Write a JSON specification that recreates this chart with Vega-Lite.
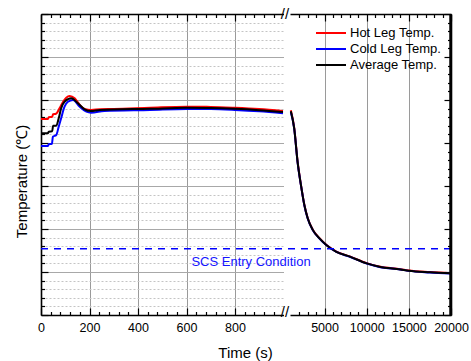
{
  "$schema": "https://vega.github.io/schema/vega-lite/v6.json",
  "autosize": {"type": "none"},
  "width": 410,
  "height": 301,
  "padding": {"left": 41, "top": 14, "right": 20, "bottom": 46},
  "background": "white",
  "config": {
    "font": "Liberation Sans",
    "view": {"stroke": null},
    "axis": {
      "labelFont": "Liberation Sans",
      "labelFontSize": 12.5,
      "labelColor": "black",
      "titleFont": "Liberation Sans",
      "titleFontSize": 15,
      "titleFontWeight": "normal",
      "titleColor": "black",
      "domainColor": "black",
      "domainWidth": 1.6,
      "tickColor": "black",
      "tickWidth": 1.2
    }
  },
  "datasets": {
    "one": [{"k": 1}],
    "left": [
      {"series": "Hot Leg Temp.", "t": 0, "temp": 328},
      {"series": "Hot Leg Temp.", "t": 28, "temp": 328},
      {"series": "Hot Leg Temp.", "t": 32, "temp": 330},
      {"series": "Hot Leg Temp.", "t": 46, "temp": 330.5},
      {"series": "Hot Leg Temp.", "t": 50, "temp": 333.5},
      {"series": "Hot Leg Temp.", "t": 62, "temp": 334},
      {"series": "Hot Leg Temp.", "t": 77, "temp": 340.7},
      {"series": "Hot Leg Temp.", "t": 91, "temp": 348},
      {"series": "Hot Leg Temp.", "t": 104, "temp": 352.7},
      {"series": "Hot Leg Temp.", "t": 118, "temp": 354.7},
      {"series": "Hot Leg Temp.", "t": 139, "temp": 352},
      {"series": "Hot Leg Temp.", "t": 160, "temp": 344.2},
      {"series": "Hot Leg Temp.", "t": 180, "temp": 339.5},
      {"series": "Hot Leg Temp.", "t": 207, "temp": 338.4},
      {"series": "Hot Leg Temp.", "t": 243, "temp": 339.3},
      {"series": "Hot Leg Temp.", "t": 300, "temp": 339.6},
      {"series": "Hot Leg Temp.", "t": 450, "temp": 341},
      {"series": "Hot Leg Temp.", "t": 600, "temp": 342.2},
      {"series": "Hot Leg Temp.", "t": 700, "temp": 342},
      {"series": "Hot Leg Temp.", "t": 800, "temp": 341},
      {"series": "Hot Leg Temp.", "t": 900, "temp": 339.5},
      {"series": "Hot Leg Temp.", "t": 998, "temp": 337.2},
      {"series": "Cold Leg Temp.", "t": 0, "temp": 296.5},
      {"series": "Cold Leg Temp.", "t": 28, "temp": 296.5},
      {"series": "Cold Leg Temp.", "t": 32, "temp": 298.5},
      {"series": "Cold Leg Temp.", "t": 45, "temp": 299},
      {"series": "Cold Leg Temp.", "t": 49, "temp": 307.3},
      {"series": "Cold Leg Temp.", "t": 63, "temp": 309.3},
      {"series": "Cold Leg Temp.", "t": 73, "temp": 319},
      {"series": "Cold Leg Temp.", "t": 83, "temp": 328.7},
      {"series": "Cold Leg Temp.", "t": 97, "temp": 342.2},
      {"series": "Cold Leg Temp.", "t": 111, "temp": 348},
      {"series": "Cold Leg Temp.", "t": 132, "temp": 350},
      {"series": "Cold Leg Temp.", "t": 160, "temp": 342.2},
      {"series": "Cold Leg Temp.", "t": 187, "temp": 336.4},
      {"series": "Cold Leg Temp.", "t": 207, "temp": 335.2},
      {"series": "Cold Leg Temp.", "t": 261, "temp": 337.2},
      {"series": "Cold Leg Temp.", "t": 450, "temp": 338.4},
      {"series": "Cold Leg Temp.", "t": 600, "temp": 339.5},
      {"series": "Cold Leg Temp.", "t": 700, "temp": 339.4},
      {"series": "Cold Leg Temp.", "t": 800, "temp": 338.4},
      {"series": "Cold Leg Temp.", "t": 900, "temp": 336.8},
      {"series": "Cold Leg Temp.", "t": 998, "temp": 334.5},
      {"series": "Average Temp.", "t": 0, "temp": 311.3},
      {"series": "Average Temp.", "t": 28, "temp": 311.3},
      {"series": "Average Temp.", "t": 32, "temp": 313.1},
      {"series": "Average Temp.", "t": 46, "temp": 313.5},
      {"series": "Average Temp.", "t": 50, "temp": 320.1},
      {"series": "Average Temp.", "t": 63, "temp": 320.1},
      {"series": "Average Temp.", "t": 73, "temp": 328.7},
      {"series": "Average Temp.", "t": 83, "temp": 340.3},
      {"series": "Average Temp.", "t": 97, "temp": 348},
      {"series": "Average Temp.", "t": 125, "temp": 352},
      {"series": "Average Temp.", "t": 152, "temp": 346.2},
      {"series": "Average Temp.", "t": 180, "temp": 339.2},
      {"series": "Average Temp.", "t": 206, "temp": 337.2},
      {"series": "Average Temp.", "t": 243, "temp": 338.4},
      {"series": "Average Temp.", "t": 450, "temp": 339.8},
      {"series": "Average Temp.", "t": 600, "temp": 340.9},
      {"series": "Average Temp.", "t": 700, "temp": 340.7},
      {"series": "Average Temp.", "t": 800, "temp": 339.8},
      {"series": "Average Temp.", "t": 900, "temp": 338.2},
      {"series": "Average Temp.", "t": 998, "temp": 336}
    ],
    "right": [
      {"series": "Hot Leg Temp.", "t": 1000, "temp": 338},
      {"series": "Hot Leg Temp.", "t": 1400, "temp": 317.5},
      {"series": "Hot Leg Temp.", "t": 1800, "temp": 278.5},
      {"series": "Hot Leg Temp.", "t": 2200, "temp": 251.3},
      {"series": "Hot Leg Temp.", "t": 2600, "temp": 228.2},
      {"series": "Hot Leg Temp.", "t": 3000, "temp": 212.7},
      {"series": "Hot Leg Temp.", "t": 3600, "temp": 199.2},
      {"series": "Hot Leg Temp.", "t": 4400, "temp": 189.3},
      {"series": "Hot Leg Temp.", "t": 5200, "temp": 181.7},
      {"series": "Hot Leg Temp.", "t": 6400, "temp": 173.8},
      {"series": "Hot Leg Temp.", "t": 8000, "temp": 168.1},
      {"series": "Hot Leg Temp.", "t": 10000, "temp": 160.3},
      {"series": "Hot Leg Temp.", "t": 11500, "temp": 156.3},
      {"series": "Hot Leg Temp.", "t": 14000, "temp": 153.2},
      {"series": "Hot Leg Temp.", "t": 15000, "temp": 151.7},
      {"series": "Hot Leg Temp.", "t": 17500, "temp": 149.9},
      {"series": "Hot Leg Temp.", "t": 20000, "temp": 148.6},
      {"series": "Cold Leg Temp.", "t": 1000, "temp": 336},
      {"series": "Cold Leg Temp.", "t": 1400, "temp": 316.6},
      {"series": "Cold Leg Temp.", "t": 1800, "temp": 277.6},
      {"series": "Cold Leg Temp.", "t": 2200, "temp": 250.8},
      {"series": "Cold Leg Temp.", "t": 2600, "temp": 227.7},
      {"series": "Cold Leg Temp.", "t": 3000, "temp": 212.2},
      {"series": "Cold Leg Temp.", "t": 3600, "temp": 198.7},
      {"series": "Cold Leg Temp.", "t": 4400, "temp": 188.9},
      {"series": "Cold Leg Temp.", "t": 5200, "temp": 181.3},
      {"series": "Cold Leg Temp.", "t": 6400, "temp": 173.3},
      {"series": "Cold Leg Temp.", "t": 8000, "temp": 167.7},
      {"series": "Cold Leg Temp.", "t": 10000, "temp": 159.8},
      {"series": "Cold Leg Temp.", "t": 11500, "temp": 155.9},
      {"series": "Cold Leg Temp.", "t": 14000, "temp": 152.9},
      {"series": "Cold Leg Temp.", "t": 15000, "temp": 151.3},
      {"series": "Cold Leg Temp.", "t": 17500, "temp": 149.5},
      {"series": "Cold Leg Temp.", "t": 20000, "temp": 148.3},
      {"series": "Average Temp.", "t": 1000, "temp": 337},
      {"series": "Average Temp.", "t": 1400, "temp": 317},
      {"series": "Average Temp.", "t": 1800, "temp": 278},
      {"series": "Average Temp.", "t": 2200, "temp": 251},
      {"series": "Average Temp.", "t": 2600, "temp": 228},
      {"series": "Average Temp.", "t": 3000, "temp": 212.5},
      {"series": "Average Temp.", "t": 3600, "temp": 199},
      {"series": "Average Temp.", "t": 4400, "temp": 189.1},
      {"series": "Average Temp.", "t": 5200, "temp": 181.5},
      {"series": "Average Temp.", "t": 6400, "temp": 173.5},
      {"series": "Average Temp.", "t": 8000, "temp": 167.9},
      {"series": "Average Temp.", "t": 10000, "temp": 160},
      {"series": "Average Temp.", "t": 11500, "temp": 156.1},
      {"series": "Average Temp.", "t": 14000, "temp": 153},
      {"series": "Average Temp.", "t": 15000, "temp": 151.5},
      {"series": "Average Temp.", "t": 17500, "temp": 149.7},
      {"series": "Average Temp.", "t": 20000, "temp": 148.5}
    ]
  },
  "resolve": {"scale": {"x": "independent", "y": "independent"}, "axis": {"x": "independent", "y": "independent"}},
  "layer": [
    {
      "data": {"name": "left"},
      "mark": {"type": "line", "strokeWidth": 2, "interpolate": "monotone"},
      "encoding": {
        "x": {
          "field": "t", "type": "quantitative",
          "scale": {"domain": [0, 1000], "range": [0, 242.5], "nice": false, "zero": false},
          "axis": {
            "orient": "bottom",
            "values": [0, 40, 80, 120, 160, 200, 240, 280, 320, 360, 400, 440, 480, 520, 560, 600, 640, 680, 720, 760, 800, 840, 880, 920, 960],
            "labelExpr": "datum.value % 200 === 0 ? datum.label : ''",
            "labelPadding": 13,
            "labelFlush": false,
            "tickSize": {"condition": {"test": "datum.value % 200 === 0", "value": -7}, "value": -3.5},
            "grid": true,
            "gridColor": "#9a9a9a",
            "gridWidth": 1,
            "gridOpacity": {"condition": {"test": "datum.value % 200 === 0 && datum.value > 0", "value": 1}, "value": 0},
            "title": "Time (s)",
            "titleX": 204,
            "titleY": 37,
            "titleAlign": "center",
            "titleBaseline": "middle"
          }
        },
        "y": {
          "field": "temp", "type": "quantitative",
          "scale": {"domain": [100, 450], "nice": false, "zero": false},
          "axis": {
            "orient": "left",
            "values": [100, 110, 120, 130, 140, 150, 160, 170, 180, 190, 200, 210, 220, 230, 240, 250, 260, 270, 280, 290, 300, 310, 320, 330, 340, 350, 360, 370, 380, 390, 400, 410, 420, 430, 440, 450],
            "labels": false,
            "tickSize": {"condition": {"test": "datum.value % 50 === 0", "value": -7}, "value": -3.5},
            "grid": true,
            "gridColor": {"condition": {"test": "datum.value % 50 === 0", "value": "#a8a8a8"}, "value": "#c4c4c4"},
            "gridDash": {"condition": {"test": "datum.value % 50 === 0", "value": []}, "value": [2, 2]},
            "gridWidth": 1,
            "gridOpacity": {"condition": {"test": "datum.value === 100 || datum.value === 450", "value": 0}, "value": 1},
            "title": "Temperature (℃)",
            "titleX": -20,
            "titleY": 167,
            "titleAlign": "center",
            "titleBaseline": "middle"
          }
        },
        "color": {
          "field": "series", "type": "nominal",
          "scale": {"domain": ["Hot Leg Temp.", "Cold Leg Temp.", "Average Temp."], "range": ["#ff0000", "#0000ff", "#000000"]},
          "legend": {
            "title": null,
            "orient": "none",
            "legendX": 274,
            "legendY": 11,
            "symbolType": "stroke",
            "symbolSize": 900,
            "symbolStrokeWidth": 2,
            "labelFontSize": 13,
            "labelFont": "Liberation Sans",
            "labelColor": "black",
            "labelOffset": 3,
            "clipHeight": 16,
            "rowPadding": 0,
            "padding": 0
          }
        }
      }
    },
    {
      "data": {"name": "right"},
      "mark": {"type": "line", "strokeWidth": 2, "interpolate": "monotone"},
      "encoding": {
        "x": {
          "field": "t", "type": "quantitative",
          "scale": {"domain": [900, 20000], "range": [249, 410], "nice": false, "zero": false},
          "axis": {
            "orient": "bottom",
            "values": [2000, 3000, 4000, 5000, 6000, 7000, 8000, 9000, 10000, 11000, 12000, 13000, 14000, 15000, 16000, 17000, 18000, 19000, 20000],
            "labelExpr": "datum.value % 5000 === 0 ? datum.label : ''",
            "format": "d",
            "labelPadding": 13,
            "labelFlush": false,
            "labelOverlap": false,
            "tickSize": {"condition": {"test": "datum.value % 5000 === 0", "value": -7}, "value": -3.5},
            "grid": true,
            "gridColor": "#9a9a9a",
            "gridWidth": 1,
            "gridOpacity": {"condition": {"test": "datum.value % 5000 === 0 && datum.value < 20000", "value": 1}, "value": 0},
            "title": null
          }
        },
        "y": {
          "field": "temp", "type": "quantitative",
          "scale": {"domain": [100, 450], "nice": false, "zero": false},
          "axis": {
            "orient": "right",
            "values": [100, 110, 120, 130, 140, 150, 160, 170, 180, 190, 200, 210, 220, 230, 240, 250, 260, 270, 280, 290, 300, 310, 320, 330, 340, 350, 360, 370, 380, 390, 400, 410, 420, 430, 440, 450],
            "labels": false,
            "tickSize": {"condition": {"test": "datum.value % 50 === 0", "value": -7}, "value": -3.5},
            "domain": true,
            "grid": false,
            "title": null
          }
        },
        "color": {
          "field": "series", "type": "nominal",
          "scale": {"domain": ["Hot Leg Temp.", "Cold Leg Temp.", "Average Temp."], "range": ["#ff0000", "#0000ff", "#000000"]}
        }
      }
    },
    {
      "data": {"name": "one"},
      "mark": {"type": "rule", "color": "#0000ff", "strokeWidth": 1.6, "strokeDash": [7, 6]},
      "encoding": {
        "y": {"datum": 177, "type": "quantitative", "scale": {"domain": [100, 450], "nice": false, "zero": false}, "axis": null}
      }
    },
    {
      "data": {"name": "one"},
      "mark": {"type": "rule", "color": "black", "strokeWidth": 1.8},
      "encoding": {
        "x": {"datum": 19900, "type": "quantitative", "scale": {"domain": [900, 20000], "range": [249, 410], "nice": false, "zero": false}, "axis": null}
      }
    },
    {
      "data": {"name": "one"},
      "mark": {"type": "text", "text": "SCS Entry Condition", "color": "#1414ff", "fontSize": 13, "font": "Liberation Sans", "align": "center", "baseline": "middle"},
      "encoding": {
        "x": {"datum": 866, "type": "quantitative", "scale": {"domain": [0, 1000], "range": [0, 242.5], "nice": false, "zero": false}, "axis": null},
        "y": {"datum": 161.6, "type": "quantitative", "scale": {"domain": [100, 450], "nice": false, "zero": false}, "axis": null}
      }
    },
    {
      "data": {"name": "one"},
      "mark": {"type": "text", "text": "//", "color": "black", "fontSize": 15, "font": "Liberation Sans", "align": "center", "baseline": "middle", "dx": 1.5},
      "encoding": {
        "x": {
          "datum": 1000, "type": "quantitative",
          "scale": {"domain": [0, 1000], "range": [0, 242.5], "nice": false, "zero": false},
          "axis": {
            "orient": "top",
            "values": [0, 40, 80, 120, 160, 200, 240, 280, 320, 360, 400, 440, 480, 520, 560, 600, 640, 680, 720, 760, 800, 840, 880, 920, 960],
            "labels": false,
            "tickSize": {"condition": {"test": "datum.value % 200 === 0", "value": -7}, "value": -3.5},
            "grid": false,
            "title": null
          }
        },
        "y": {"datum": 450, "type": "quantitative", "scale": {"domain": [100, 450], "nice": false, "zero": false}, "axis": null}
      }
    },
    {
      "data": {"name": "one"},
      "mark": {"type": "text", "text": "//", "color": "black", "fontSize": 15, "font": "Liberation Sans", "align": "center", "baseline": "middle", "dx": 1.5},
      "encoding": {
        "x": {"datum": 1000, "type": "quantitative", "scale": {"domain": [0, 1000], "range": [0, 242.5], "nice": false, "zero": false}, "axis": null},
        "y": {"datum": 104, "type": "quantitative", "scale": {"domain": [100, 450], "nice": false, "zero": false}, "axis": null}
      }
    },
    {
      "data": {"name": "one"},
      "mark": {"type": "text", "text": " ", "opacity": 0},
      "encoding": {
        "x": {
          "datum": 20000, "type": "quantitative",
          "scale": {"domain": [900, 20000], "range": [249, 410], "nice": false, "zero": false},
          "axis": {
            "orient": "top",
            "values": [2000, 3000, 4000, 5000, 6000, 7000, 8000, 9000, 10000, 11000, 12000, 13000, 14000, 15000, 16000, 17000, 18000, 19000, 20000],
            "labels": false,
            "tickSize": {"condition": {"test": "datum.value % 5000 === 0", "value": -7}, "value": -3.5},
            "grid": false,
            "title": null
          }
        },
        "y": {"datum": 300, "type": "quantitative", "scale": {"domain": [100, 450], "nice": false, "zero": false}, "axis": null}
      }
    }
  ]
}
